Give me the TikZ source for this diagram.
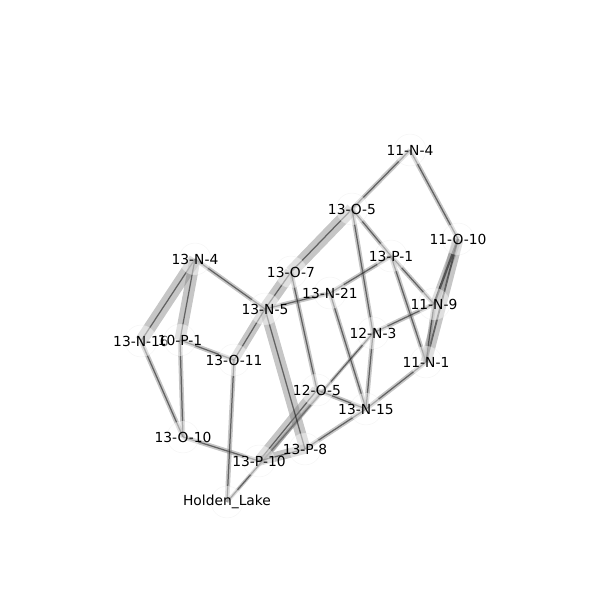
\documentclass[tikz,border=0pt]{standalone}
\usepackage{fontspec}
\setmainfont{DejaVu Sans}
\usetikzlibrary{backgrounds}
\tikzset{
  site/.style={circle, fill=white, fill opacity=0.45, draw=gray!30, draw opacity=0.25,
    text opacity=1, minimum size=23pt, inner sep=0pt, font=\fontsize{8.2}{10}\selectfont},
  link/.style={draw=black, draw opacity=0.5, line width=0.9pt,
    preaction={draw=gray, draw opacity=0.45, line width=#1}},
  link/.default=3.3pt
}
\begin{document}
\begin{tikzpicture}[x=0.254mm, y=-0.254mm]
    \useasboundingbox (0,0) rectangle (600,600);

    \node[site, label={center:11-N-4}] (a) at (410,150) {};
    \node[site, label={center:13-O-5}] (b) at (352,209) {};
    \node[site, label={center:11-O-10}] (c) at (458,239) {};
    \node[site, label={center:13-P-1}] (d) at (391,256) {};
    \node[site, label={center:13-N-4}] (e) at (195,259) {};
    \node[site, label={center:13-O-7}] (f) at (291,272) {};
    \node[site, label={center:13-N-21}] (g) at (330,293) {};
    \node[site, label={center:11-N-9}] (h) at (434,304) {};
    \node[site, label={center:13-N-5}] (i) at (265,309) {};
    \node[site, label={center:13-N-16}] (j) at (141,341) {};
    \node[site, label={center:10-P-1}] (k) at (180,340) {};
    \node[site, label={center:12-N-3}] (l) at (373,333) {};
    \node[site, label={center:13-O-11}] (m) at (234,360) {};
    \node[site, label={center:11-N-1}] (n) at (426,362) {};
    \node[site, label={center:12-O-5}] (o) at (317,390) {};
    \node[site, label={center:13-N-15}] (p) at (366,409) {};
    \node[site, label={center:13-O-10}] (q) at (183,437) {};
    \node[site, label={center:13-P-8}] (r) at (305,449) {};
    \node[site, label={center:13-P-10}] (s) at (259,461) {};
    \node[site, label={center:Holden\_Lake}] (t) at (227,502) {};

    \begin{scope}[on background layer]
    \draw[link] (a.center) -- (b.center);
    \draw[link] (a.center) -- (c.center);
    \draw[link=9pt] (b.center) -- (f.center);
    \draw[link=9pt] (f.center) -- (i.center);
    \draw[link] (b.center) -- (d.center);
    \draw[link] (b.center) -- (l.center);
    \draw[link] (d.center) -- (h.center);
    \draw[link] (d.center) -- (n.center);
    \draw[link] (d.center) -- (g.center);
    \draw[link] (g.center) -- (i.center);
    \draw[link] (g.center) -- (p.center);
    \draw[link] (f.center) -- (o.center);

    \draw[link=5.5pt, draw opacity=0.75, line width=1.6pt] (c.center) -- (h.center);
    \draw[link=8pt, line width=1.3pt] (c.center) -- (n.center);
    \draw[link] (h.center) -- (n.center);
    \draw[link] (h.center) -- (l.center);
    \draw[link] (l.center) -- (p.center);
    \draw[link=2.6pt] (l.center) -- (t.center);
    \draw[link] (n.center) -- (p.center);

    \draw[link] (o.center) -- (p.center);
    \draw[link=8pt] (o.center) -- (s.center);
    \draw[link] (p.center) -- (r.center);
    \draw[link=7pt] (r.center) -- (s.center);
    \draw[link=8pt] (i.center) -- (r.center);
    \draw[link=7pt] (i.center) -- (m.center);

    \draw[link] (e.center) -- (i.center);
    \draw[link=9pt] (e.center) -- (j.center);
    \draw[link=8pt] (e.center) -- (k.center);
    \draw[link] (k.center) -- (m.center);
    \draw[link] (k.center) -- (q.center);
    \draw[link] (j.center) -- (q.center);
    \draw[link] (q.center) -- (s.center);
    \draw[link] (m.center) -- (t.center);
    \end{scope}

\end{tikzpicture}
\end{document}
